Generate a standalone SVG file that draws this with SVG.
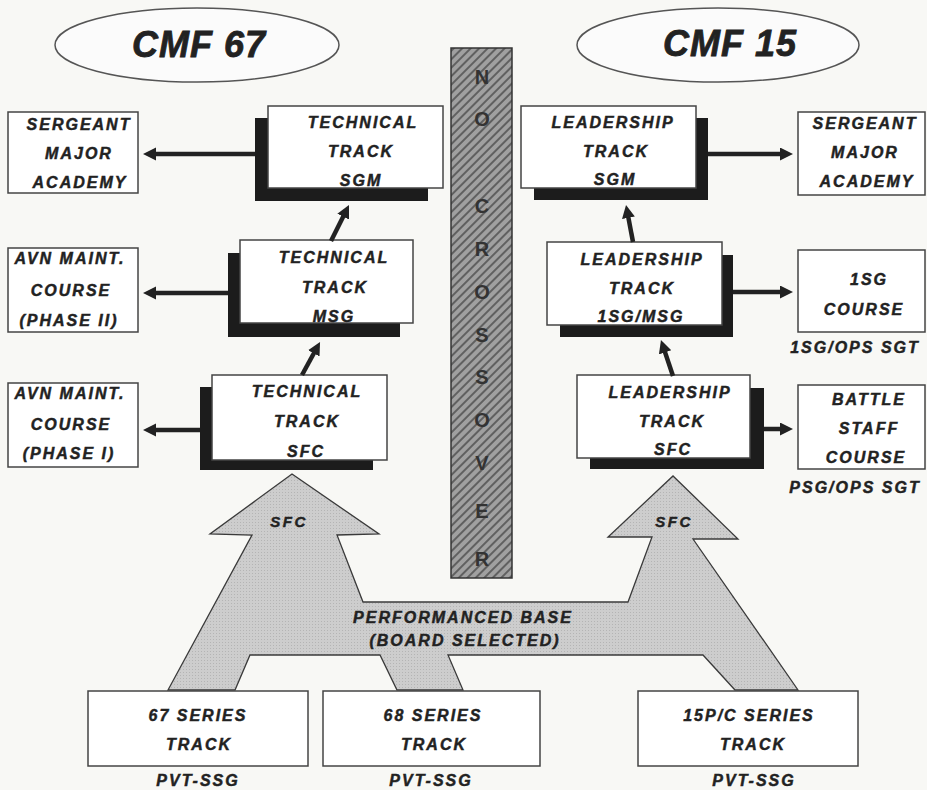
<svg xmlns="http://www.w3.org/2000/svg" width="927" height="790" viewBox="0 0 927 790">
<defs>
<pattern id="hatch" patternUnits="userSpaceOnUse" width="6" height="6" patternTransform="rotate(45)">
<rect width="6" height="6" fill="#a0a0a0"/>
<line x1="1" y1="0" x2="1" y2="6" stroke="#505050" stroke-width="1.6"/>
</pattern>
<pattern id="stipple" patternUnits="userSpaceOnUse" width="3" height="3">
<rect width="3" height="3" fill="#cdcdcd"/>
<rect width="1" height="1" fill="#b4b4b4"/>
</pattern>
<marker id="ah" markerUnits="userSpaceOnUse" markerWidth="14" markerHeight="14" refX="5" refY="6.5" orient="auto">
<path d="M0,0 L13,6.5 L0,13 z" fill="#222"/>
</marker>
<style>
.t{font-family:"Liberation Sans",Arial,sans-serif;font-weight:bold;font-style:italic;font-size:16px;letter-spacing:2px;fill:#222;stroke:#222;stroke-width:0.45;text-anchor:middle}
.big{font-size:36px;letter-spacing:1px;stroke-width:0.8}
.sfc{font-size:15px;letter-spacing:2.5px}
.nc{font-family:"Liberation Sans",Arial,sans-serif;font-weight:bold;font-size:20px;fill:#333;text-anchor:middle}
.box{fill:#fff;stroke:#444;stroke-width:1.5}
.sh{fill:#1c1c1c}
.ell{fill:#fbfbfb;stroke:#555;stroke-width:1.5}
.con{stroke:#222;stroke-width:4.5;fill:none;marker-end:url(#ah)}
</style>
</defs>
<rect width="927" height="790" fill="#f8f8f5"/>

<g id="performance-base">
<path d="M292,474 L379,534 L337,535 L363,602 L628,602 L652,537 L608,537 L673,476 L738,539 L693,539 L798,690 L735,690 L703,655 L448,655 L463,690 L397,690 L380,655 L250,655 L235,690 L168,690 L252,535 L210,534 Z" fill="url(#stipple)" stroke="#3a3a3a" stroke-width="1.3" stroke-linejoin="miter"/>
<text class="t sfc" x="289" y="527">SFC</text>
<text class="t sfc" x="674" y="527">SFC</text>
<text class="t" x="463" y="623">PERFORMANCED BASE</text>
<text class="t" x="465" y="646">(BOARD SELECTED)</text>
</g>

<g id="no-crossover">
<rect x="451" y="48" width="61" height="530" fill="url(#hatch)" stroke="#333" stroke-width="1.5"/>
<text class="nc" x="482" y="84">N</text>
<text class="nc" x="482" y="126">O</text>
<text class="nc" x="482" y="213">C</text>
<text class="nc" x="482" y="256">R</text>
<text class="nc" x="482" y="299">O</text>
<text class="nc" x="482" y="342">S</text>
<text class="nc" x="482" y="384">S</text>
<text class="nc" x="482" y="427">O</text>
<text class="nc" x="482" y="470">V</text>
<text class="nc" x="482" y="518">E</text>
<text class="nc" x="482" y="566">R</text>
</g>

<g id="cmf67">
<ellipse class="ell" cx="197" cy="45" rx="142" ry="37"/>
<text class="t big" x="199" y="57">CMF 67</text>
</g>
<g id="cmf15">
<ellipse class="ell" cx="718" cy="45" rx="141" ry="37"/>
<text class="t big" x="730" y="56">CMF 15</text>
</g>

<g id="sma-left">
<rect class="box" x="8" y="112" width="130" height="81"/>
<text class="t" x="79" y="130">SERGEANT</text>
<text class="t" x="79" y="159">MAJOR</text>
<text class="t" x="80" y="188">ACADEMY</text>
</g>
<g id="avn-phase2">
<rect class="box" x="8" y="248" width="130" height="84"/>
<text class="t" x="70" y="264">AVN MAINT.</text>
<text class="t" x="71" y="296">COURSE</text>
<text class="t" x="69" y="326">(PHASE II)</text>
</g>
<g id="avn-phase1">
<rect class="box" x="8" y="383" width="130" height="84"/>
<text class="t" x="70" y="399">AVN MAINT.</text>
<text class="t" x="71" y="430">COURSE</text>
<text class="t" x="69" y="459">(PHASE I)</text>
</g>

<g id="tech-sgm">
<rect class="sh" x="255" y="118" width="173" height="83"/>
<rect class="box" x="268" y="106" width="175" height="82"/>
<text class="t" x="363" y="128">TECHNICAL</text>
<text class="t" x="361" y="157">TRACK</text>
<text class="t" x="361" y="186">SGM</text>
</g>
<g id="tech-msg">
<rect class="sh" x="228" y="253" width="172" height="84"/>
<rect class="box" x="240" y="240" width="173" height="83"/>
<text class="t" x="334" y="263">TECHNICAL</text>
<text class="t" x="335" y="293">TRACK</text>
<text class="t" x="334" y="322">MSG</text>
</g>
<g id="tech-sfc">
<rect class="sh" x="200" y="387" width="173" height="83"/>
<rect class="box" x="212" y="375" width="175" height="85"/>
<text class="t" x="307" y="397">TECHNICAL</text>
<text class="t" x="307" y="427">TRACK</text>
<text class="t" x="306" y="457">SFC</text>
</g>

<g id="lead-sgm">
<rect class="sh" x="534" y="118" width="174" height="82"/>
<rect class="box" x="521" y="106" width="175" height="82"/>
<text class="t" x="613" y="128">LEADERSHIP</text>
<text class="t" x="616" y="157">TRACK</text>
<text class="t" x="615" y="185">SGM</text>
</g>
<g id="lead-1sg-msg">
<rect class="sh" x="560" y="255" width="173" height="82"/>
<rect class="box" x="547" y="242" width="175" height="83"/>
<text class="t" x="642" y="265">LEADERSHIP</text>
<text class="t" x="642" y="294">TRACK</text>
<text class="t" x="641" y="322">1SG/MSG</text>
</g>
<g id="lead-sfc">
<rect class="sh" x="590" y="388" width="174" height="81"/>
<rect class="box" x="577" y="375" width="173" height="83"/>
<text class="t" x="670" y="398">LEADERSHIP</text>
<text class="t" x="672" y="427">TRACK</text>
<text class="t" x="673" y="455">SFC</text>
</g>

<g id="sma-right">
<rect class="box" x="798" y="112" width="127" height="83"/>
<text class="t" x="865" y="129">SERGEANT</text>
<text class="t" x="865" y="158">MAJOR</text>
<text class="t" x="867" y="187">ACADEMY</text>
</g>
<g id="1sg-course">
<rect class="box" x="798" y="250" width="127" height="82"/>
<text class="t" x="869" y="285">1SG</text>
<text class="t" x="864" y="315">COURSE</text>
<text class="t" x="855" y="353">1SG/OPS SGT</text>
</g>
<g id="battle-staff-course">
<rect class="box" x="798" y="385" width="127" height="84"/>
<text class="t" x="869" y="405">BATTLE</text>
<text class="t" x="869" y="434">STAFF</text>
<text class="t" x="866" y="463">COURSE</text>
<text class="t" x="855" y="493">PSG/OPS SGT</text>
</g>

<g id="series67">
<rect class="box" x="88" y="691" width="220" height="75"/>
<text class="t" x="198" y="721">67 SERIES</text>
<text class="t" x="199" y="750">TRACK</text>
<text class="t" x="198" y="786">PVT-SSG</text>
</g>
<g id="series68">
<rect class="box" x="323" y="691" width="217" height="75"/>
<text class="t" x="433" y="721">68 SERIES</text>
<text class="t" x="434" y="750">TRACK</text>
<text class="t" x="431" y="786">PVT-SSG</text>
</g>
<g id="series15pc">
<rect class="box" x="638" y="691" width="220" height="75"/>
<text class="t" x="749" y="721">15P/C SERIES</text>
<text class="t" x="753" y="750">TRACK</text>
<text class="t" x="754" y="786">PVT-SSG</text>
</g>

<g id="connectors">
<line class="con" x1="255" y1="154" x2="151" y2="154"/>
<line class="con" x1="228" y1="293" x2="151" y2="293"/>
<line class="con" x1="200" y1="430" x2="151" y2="430"/>
<line class="con" x1="331" y1="241" x2="345.4" y2="212.2"/>
<line class="con" x1="302" y1="375" x2="316.2" y2="349"/>
<line class="con" x1="708" y1="154" x2="785" y2="154"/>
<line class="con" x1="733" y1="292" x2="785" y2="292"/>
<line class="con" x1="764" y1="429" x2="785" y2="429"/>
<line class="con" x1="633" y1="242" x2="627.5" y2="212.9"/>
<line class="con" x1="673" y1="376" x2="663.5" y2="347.6"/>
</g>
</svg>
